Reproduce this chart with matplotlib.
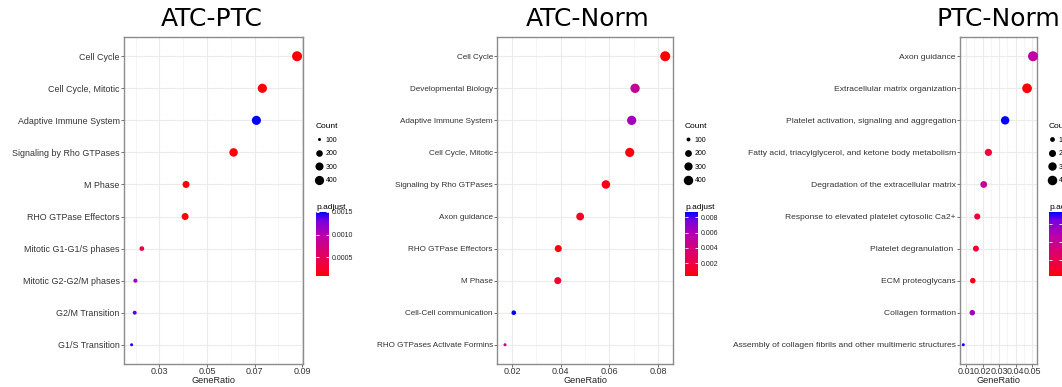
import numpy as np
import matplotlib.pyplot as plt
from matplotlib.colors import LinearSegmentedColormap
from matplotlib.lines import Line2D

plt.rcParams['font.family'] = ['Liberation Sans', 'DejaVu Sans']

W, H = 1062, 387

# ATC-PTC
atc_ptc_terms = ["Cell Cycle", "Cell Cycle, Mitotic", "Adaptive Immune System",
                 "Signaling by Rho GTPases", "M Phase", "RHO GTPase Effectors",
                 "Mitotic G1-G1/S phases", "Mitotic G2-G2/M phases",
                 "G2/M Transition", "G1/S Transition"]
atc_ptc_ratio = [0.0879, 0.0733, 0.0708, 0.0612, 0.0412, 0.0408, 0.0226, 0.0199, 0.0196, 0.0183]
atc_ptc_count = [480, 400, 387, 334, 225, 223, 123, 109, 107, 100]
atc_ptc_padj = [0.00008, 0.0001, 0.0015, 0.00012, 0.0001, 0.00011, 0.00036, 0.00115, 0.00136, 0.00146]

# ATC-Norm
atc_norm_terms = ["Cell Cycle", "Developmental Biology", "Adaptive Immune System",
                  "Cell Cycle, Mitotic", "Signaling by Rho GTPases", "Axon guidance",
                  "RHO GTPase Effectors", "M Phase", "Cell-Cell communication",
                  "RHO GTPases Activate Formins"]
atc_norm_ratio = [0.083, 0.0706, 0.0692, 0.0684, 0.0586, 0.048, 0.039, 0.0388, 0.0207, 0.0171]
atc_norm_count = [456, 388, 381, 376, 322, 264, 215, 213, 114, 94]
atc_norm_padj = [0.0003, 0.0049, 0.0063, 0.0005, 0.0007, 0.0011, 0.0006, 0.0013, 0.0087, 0.0045]

# PTC-Norm
ptc_norm_terms = ["Axon guidance", "Extracellular matrix organization",
                  "Platelet activation, signaling and aggregation",
                  "Fatty acid, triacylglycerol, and ketone body metabolism",
                  "Degradation of the extracellular matrix",
                  "Response to elevated platelet cytosolic Ca2+",
                  "Platelet degranulation ", "ECM proteoglycans", "Collagen formation",
                  "Assembly of collagen fibrils and other multimeric structures"]
ptc_norm_ratio = [0.0504, 0.0468, 0.0336, 0.0235, 0.0207, 0.0168, 0.016, 0.0141, 0.0138, 0.0084]
ptc_norm_count = [450, 418, 300, 210, 185, 150, 143, 126, 123, 75]
ptc_norm_padj = [0.0113, 0.0005, 0.0185, 0.0032, 0.0104, 0.0032, 0.0027, 0.0014, 0.0135, 0.0181]

legend_counts = [100, 200, 300, 400]

# red -> blue through Lab, like ggplot's gradient
cmap = LinearSegmentedColormap.from_list(
    "padj", ["#FF0000", "#F40031", "#E8004F", "#DA006C", "#CA0089",
             "#BB00AB", "#9A00C2", "#7300E1", "#0000FF"])


def dot_pt(c, cmin, cmax):
    # diameter in points, area-scaled like scale_size()
    t = np.sqrt(np.clip((np.asarray(c, float) - cmin) / (cmax - cmin), 0, None))
    px = 3.0 + 7.0 * t
    return px * 72 / 100


def px_rect(x0, y0, x1, y1):
    return [x0 / W, 1 - y1 / H, (x1 - x0) / W, (y1 - y0) / H]


fig = plt.figure(figsize=(W / 100, H / 100), dpi=100)


def panel(x0, x1, title, tx, terms, ratio, count, padj, xt, xminor, xlim,
          cticks, cfmt, lx, ysize):
    ax = fig.add_axes(px_rect(x0, 37, x1, 364))
    n = len(terms)
    ypos = np.arange(n)[::-1] + 1
    cmin, cmax = min(count), max(count)
    d = dot_pt(count, cmin, cmax)
    sc = ax.scatter(ratio, ypos, s=d ** 2, c=padj, cmap=cmap,
                    vmin=min(padj), vmax=max(padj), linewidths=0, zorder=3, clip_on=False)
    ax.set_ylim(0.4, n + 0.6)
    ax.set_xlim(*xlim)
    ax.set_yticks(ypos)
    ax.set_yticklabels(terms, fontsize=ysize, color='#333333')
    ax.set_xticks(xt)
    ax.set_xticklabels([f"{v:g}" for v in xt], fontsize=6.5, color='#333333')
    ax.set_xticks(xminor, minor=True)
    ax.grid(True, which='major', color='#ebebeb', lw=0.8, zorder=0)
    ax.grid(True, which='minor', axis='x', color='#f2f2f2', lw=0.5, zorder=0)
    ax.set_axisbelow(True)
    ax.tick_params(which='major', length=2, width=0.6, color='#555555', pad=1)
    ax.tick_params(axis='x', which='major', pad=0.5)
    ax.tick_params(which='minor', length=0)
    for sp in ax.spines.values():
        sp.set_color('#8c8c8c')
        sp.set_linewidth(1)
    ax.set_xlabel('GeneRatio', fontsize=6.6, labelpad=-0.5, color='#222222')
    fig.text(tx / W, 1 - 19 / H, title, ha='center', va='center',
             fontsize=18, family='DejaVu Sans')

    # size legend
    hd = dot_pt(legend_counts, cmin, cmax)
    handles = [Line2D([], [], marker='o', ls='', color='black', markersize=m,
                      markeredgewidth=0) for m in hd]
    fig.legend(handles, [str(v) for v in legend_counts], title='Count',
               loc='upper left', bbox_to_anchor=(lx / W, 1 - 123 / H),
               frameon=False, fontsize=5, title_fontsize=6,
               handlelength=1.0, handletextpad=0.4, labelspacing=0.95,
               borderpad=0, borderaxespad=0, alignment='left')

    # colour bar
    cax = fig.add_axes(px_rect(lx, 212, lx + 13, 276))
    cb = fig.colorbar(sc, cax=cax, ticks=cticks)
    cb.outline.set_visible(False)
    cb.ax.set_yticklabels([cfmt.format(v) for v in cticks])
    cax.yaxis.set_ticks_position('both')
    cax.tick_params(length=2, width=0.6, color='white', direction='in',
                    labelsize=5, pad=2, labelcolor='#222222')
    cax.set_title('p.adjust', loc='left', fontsize=6, pad=2)
    return ax


panel(124, 303, "ATC-PTC", 212, atc_ptc_terms, atc_ptc_ratio, atc_ptc_count, atc_ptc_padj,
      [0.03, 0.05, 0.07, 0.09], [0.02, 0.04, 0.06, 0.08], (0.0151, 0.0904),
      [0.0005, 0.0010, 0.0015], "{:.4f}", 316, 6.4)
panel(497, 673, "ATC-Norm", 588, atc_norm_terms, atc_norm_ratio, atc_norm_count, atc_norm_padj,
      [0.02, 0.04, 0.06, 0.08], [0.03, 0.05, 0.07], (0.0138, 0.0862),
      [0.002, 0.004, 0.006, 0.008], "{:.3f}", 685, 5.9)
panel(960, 1037, "PTC-Norm", 998, ptc_norm_terms, ptc_norm_ratio, ptc_norm_count, ptc_norm_padj,
      [0.01, 0.02, 0.03, 0.04, 0.05], [0.015, 0.025, 0.035, 0.045], (0.0064, 0.0528),
      [0.005, 0.010, 0.015], "{:.3f}", 1049, 6.1)

plt.savefig("out.png", dpi=100)
